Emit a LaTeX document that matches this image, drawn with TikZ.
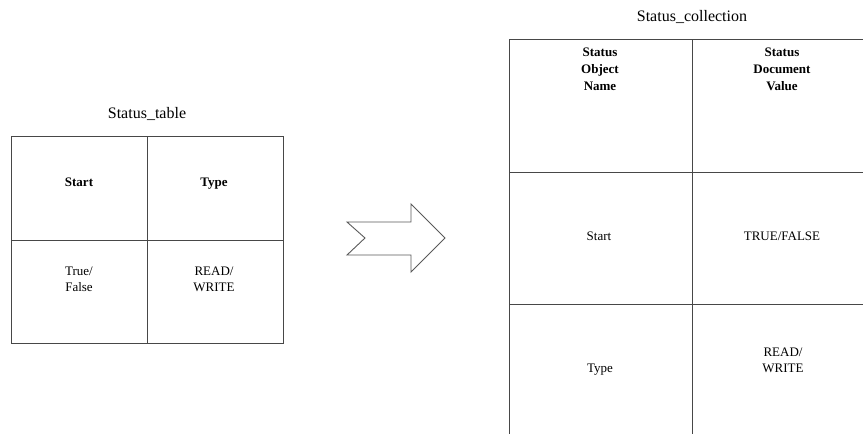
\documentclass[tikz,border=0pt]{standalone}
\usepackage{fontspec}
\setmainfont{Liberation Serif}
\begin{document}
\begin{tikzpicture}[x=1pt,y=-1pt,
  grid/.style={draw=black!72,line width=1pt},
  one/.style={text height=0.66em,text depth=0em},
  ttl/.style={font=\fontsize{16}{18}\selectfont,inner sep=0pt,anchor=center,one},
  hdr/.style={font=\fontsize{13}{17}\selectfont\bfseries,align=center,inner sep=0pt},
  cell/.style={font=\fontsize{13}{16}\selectfont,align=center,inner sep=0pt},
  bigarrow/.style={draw=black!65,line width=0.9pt,fill=white,line join=miter}]
\useasboundingbox (0,0) rectangle (863,434);
% left table
\node[ttl] (t1) at (147,115) {Status\_table};
\draw[grid] (11,136) rectangle (283,343);
\draw[grid] (147,136) -- (147,343);
\draw[grid] (11,240) -- (283,240);
\node[hdr,one] (s1) at (79,183) {Start};
\node[hdr,one] (ty1) at (214,183) {Type};
\node[cell] (tf) at (79,279) {True/\\False};
\node[cell] (rw1) at (214,279) {READ/\\WRITE};
% arrow
\draw[bigarrow] (347,222) -- (411,222) -- (411,204) -- (445,238) -- (411,272) -- (411,255) -- (347,255) -- (365,238) -- cycle;
% right table
\node[ttl] (t2) at (692,18) {Status\_collection};
\draw[grid] (863,39) -- (509,39) -- (509,434);
\draw[grid] (692,39) -- (692,434);
\draw[grid] (509,172) -- (863,172);
\draw[grid] (509,304) -- (863,304);
\node[hdr] (h1) at (600,69) {Status\\Object\\Name};
\node[hdr] (h2) at (782,69) {Status\\Document\\Value};
\node[cell,one] (s2) at (599,237) {Start};
\node[cell,one] (tf2) at (782,237) {TRUE/FALSE};
\node[cell,one] (ty2) at (600,369) {Type};
\node[cell] (rw2) at (783,360) {READ/\\WRITE};
\end{tikzpicture}
\end{document}
